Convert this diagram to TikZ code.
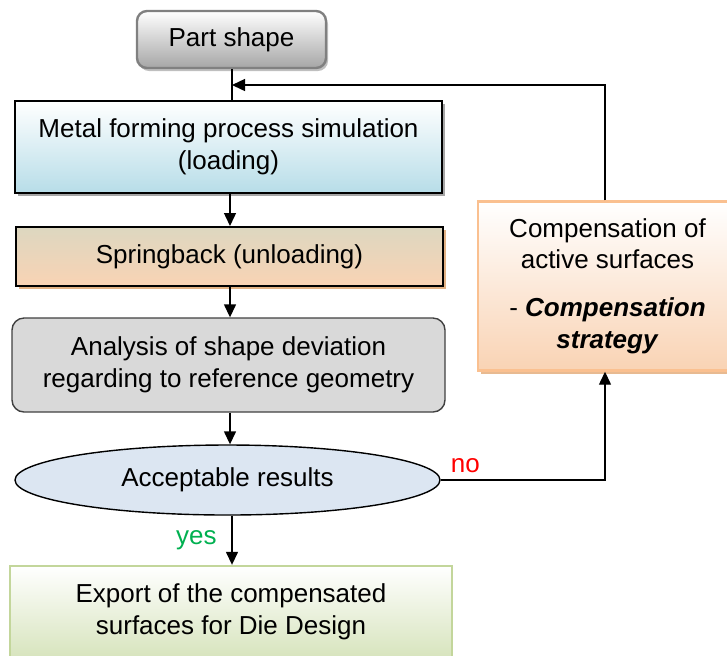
\documentclass[tikz,border=0pt]{standalone}
\usepackage{fontspec}
\setmainfont{Liberation Sans}
\usetikzlibrary{shapes.geometric,arrows.meta,shadows}
\definecolor{simblue}{HTML}{B7DDE8}
\definecolor{tan}{HTML}{DDD7C0}
\definecolor{peach}{HTML}{F9D3B4}
\definecolor{peachline}{HTML}{FAC090}
\definecolor{greenfill}{HTML}{D7E4BD}
\definecolor{greenline}{HTML}{C3D69B}
\definecolor{ellfill}{HTML}{DCE6F2}
\definecolor{yesgreen}{HTML}{00B050}
\begin{document}
\begin{tikzpicture}[x=0.5pt, y=-0.5pt, font=\fontsize{13}{15.8}\selectfont,
	box/.style={draw, align=center, inner sep=2pt},
	start/.style={box, rounded corners=5pt, draw=black!50, line width=1.2pt, top color=white, bottom color=black!35, minimum width=94.5pt, minimum height=28.5pt, drop shadow={shadow xshift=1pt, shadow yshift=-1.5pt, opacity=1, fill=black!25}},
	process/.style={box, line width=1pt, minimum width=213.5pt, drop shadow={shadow xshift=1.5pt, shadow yshift=-1.5pt, opacity=1, fill=black!35}},
	check/.style={box, rounded corners=6pt, line width=0.7pt, draw=black!75, fill=black!15, minimum width=216.5pt, minimum height=47pt},
	decision/.style={ellipse, draw, line width=0.7pt, fill=ellfill, minimum width=212.5pt, minimum height=35pt, inner sep=0pt},
	flow/.style={-{Triangle[length=6.5pt,width=6pt]}, line width=0.7pt}]
%	\draw[help lines] (0,0) grid (727,655);
	\clip (0,0) rectangle (727,655);
	\node[start] (part) at (231.5, 39.5) {Part shape};
	\node[process, top color=white, bottom color=simblue, minimum height=46pt] (sim) at (228.5, 147) {Metal forming process simulation\\(loading)};
	\node[process, top color=tan, bottom color=peach, minimum height=29.5pt, drop shadow={shadow xshift=1.5pt, shadow yshift=-1.5pt, opacity=1, fill=peach!60!brown}] (spring) at (229.5, 256.5) {Springback (unloading)};
	\node[check] (analysis) at (228.5, 365) {Analysis of shape deviation\\regarding to reference geometry};
	\node[decision] (accept) at (227.5, 480) {Acceptable results};
	\node[box, draw=greenline, line width=1.2pt, top color=white, bottom color=greenfill, minimum width=221pt, minimum height=46pt] (export) at (231, 612) {Export of the compensated\\surfaces for Die Design};
	\node[box, draw=peachline, line width=1.2pt, top color=white, bottom color=peach, minimum width=129.5pt, minimum height=84.5pt, drop shadow={shadow xshift=1.5pt, shadow yshift=-1.5pt, opacity=1, fill=peach!70!brown}] (comp) at (607.5, 286) {Compensation of\\active surfaces\\[8pt]- \textbf{\textit{Compensation}}\\\textbf{\textit{strategy}}};
	\coordinate (join) at (232, 85);
	\draw[line width=0.7pt] (part.south -| join) -- (join |- sim.north);
	\draw[flow] (comp.north -| 605, 0) |- (join);
	\draw[flow] (sim.south -| 230, 0) -- (spring.north -| 230, 0);
	\draw[flow] (spring.south -| 230, 0) -- (analysis.north -| 230, 0);
	\draw[flow] (analysis.south -| 230, 0) -- (accept.north -| 230, 0);
	\draw[flow] (accept.south -| 232, 0) -- node[left=4pt, pos=0.5, text=yesgreen] (yes) {yes} (export.north -| 232, 0);
	\draw[flow] (accept.east) -- node[above, pos=0.15, text=red] (no) {no} (accept.east -| 605, 0) -- (comp.south -| 605, 0);
\end{tikzpicture}
\end{document}
